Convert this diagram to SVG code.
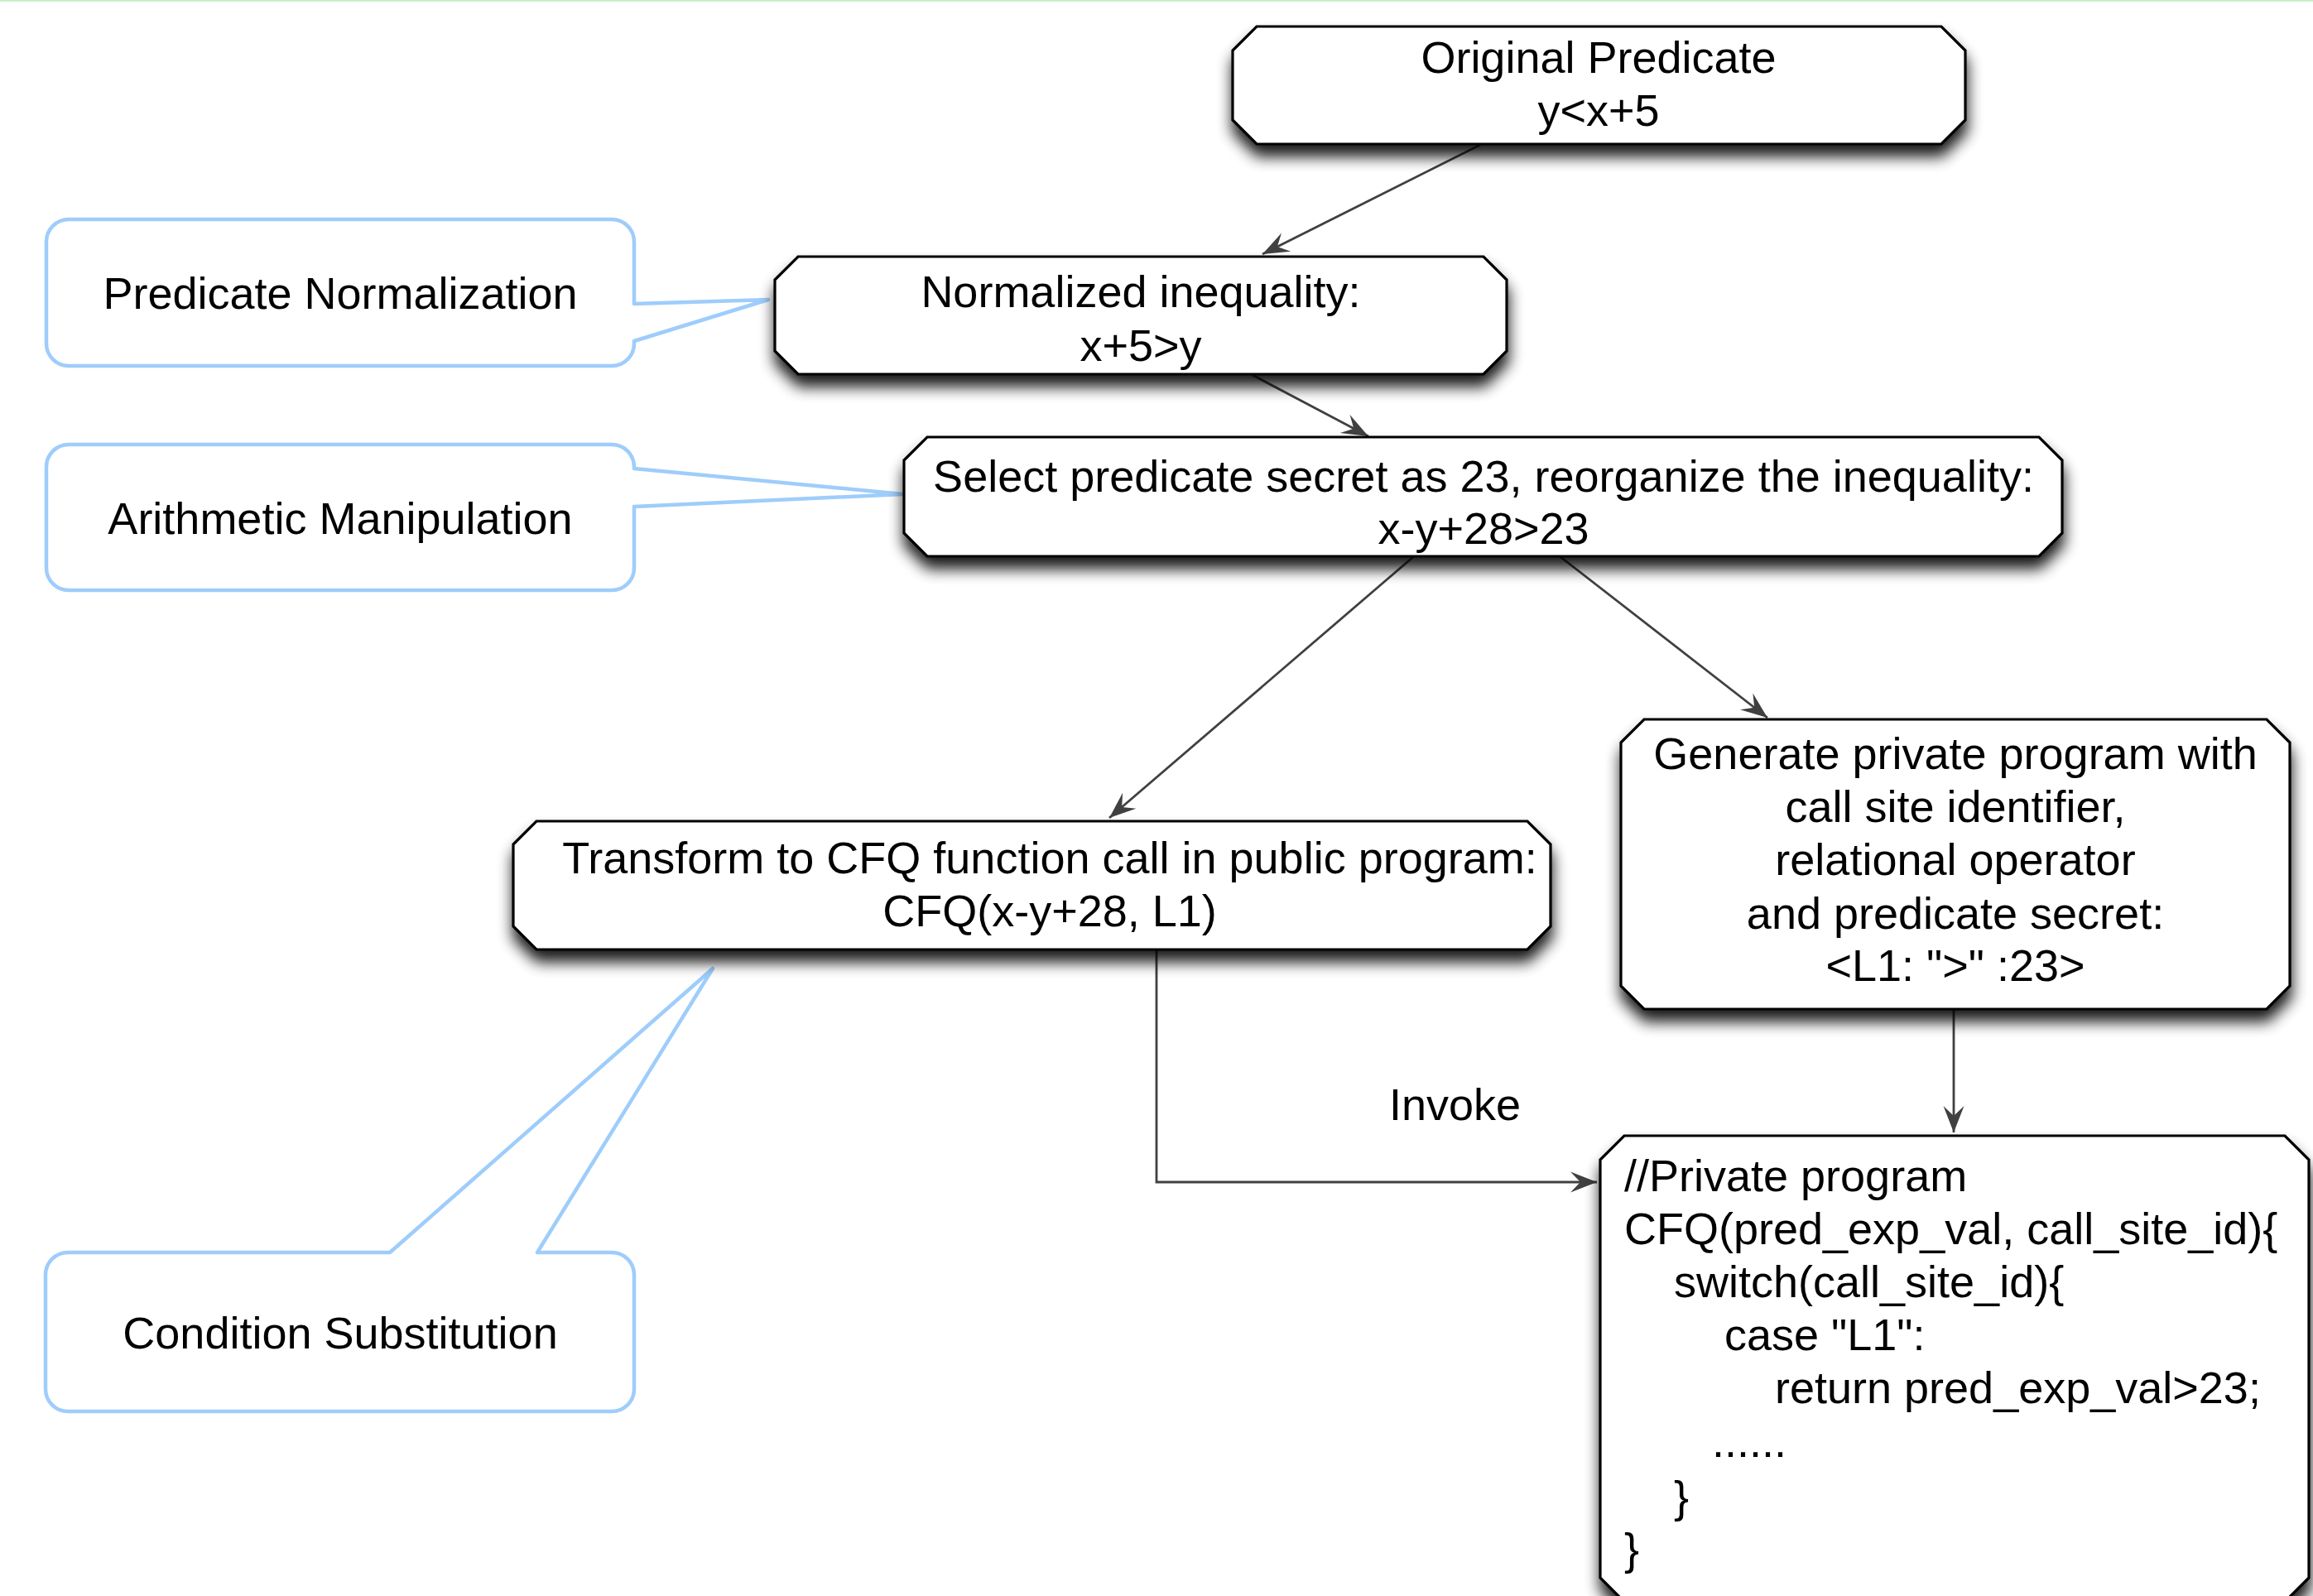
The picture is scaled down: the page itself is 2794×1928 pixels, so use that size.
<svg xmlns="http://www.w3.org/2000/svg" width="2794" height="1928" viewBox="0 0 2794 1928">
<defs>
<style>
text{font-family:"Liberation Sans",Arial,Helvetica,sans-serif;font-size:54px;fill:#000}
.c{text-anchor:middle}
.box{fill:#fff;stroke:#000;stroke-width:3.2;filter:url(#sh)}
.call{fill:#fff;stroke:#9ecdfb;stroke-width:4.5;stroke-linejoin:round}
.con{fill:none;stroke:#404040;stroke-width:2.8;marker-end:url(#ah)}
</style>
<filter id="sh" x="-10%" y="-20%" width="120%" height="160%">
<feGaussianBlur in="SourceAlpha" stdDeviation="9"/>
<feOffset dx="1" dy="14" result="b"/>
<feComponentTransfer><feFuncA type="linear" slope="0.9"/></feComponentTransfer>
<feMerge><feMergeNode/><feMergeNode in="SourceGraphic"/></feMerge>
</filter>
<marker id="ah" viewBox="-34 -14 36 28" refX="0" refY="0" markerWidth="36" markerHeight="28" markerUnits="userSpaceOnUse" orient="auto">
<path d="M0,0 L-32,-12.5 L-20,0 L-32,12.5 Z" fill="#404040"/>
</marker>
</defs>
<rect x="0" y="0" width="2794" height="2" fill="#c8f0c8"/>

<g id="callout-normalization">
<path class="call" d="M83,265 L739,265 A27,27 0 0 1 766,292 L766,367 L928,362 L766,412 L766,415 A27,27 0 0 1 739,442 L83,442 A27,27 0 0 1 56,415 L56,292 A27,27 0 0 1 83,265 Z"/>
<text class="c" x="411" y="373">Predicate Normalization</text>
</g>
<g id="callout-arithmetic">
<path class="call" d="M83,537 L739,537 A27,27 0 0 1 766,564 L766,566 L1091,597 L766,612 L766,686 A27,27 0 0 1 739,713 L83,713 A27,27 0 0 1 56,686 L56,564 A27,27 0 0 1 83,537 Z"/>
<text class="c" x="411" y="645">Arithmetic Manipulation</text>
</g>
<g id="callout-substitution">
<path class="call" d="M82,1513 L471,1513 L861,1170 L649,1513 L739,1513 A27,27 0 0 1 766,1540 L766,1678 A27,27 0 0 1 739,1705 L82,1705 A27,27 0 0 1 55,1678 L55,1540 A27,27 0 0 1 82,1513 Z"/>
<text class="c" x="411" y="1629">Condition Substitution</text>
</g>

<g id="connectors">
<path class="con" d="M1788,175 L1525,307"/>
<path class="con" d="M1513,453 L1653,527"/>
<path class="con" d="M1708,672 L1340,988"/>
<path class="con" d="M1884,672 L2135,867"/>
<path class="con" d="M2360,1219 L2360,1368"/>
<path class="con" d="M1397,1148 L1397,1428 L1929,1428"/>
<text x="1678" y="1353">Invoke</text>
</g>

<g id="original-predicate">
<path class="box" d="M1518,32 L2345,32 L2374,61 L2374,145 L2345,174 L1518,174 L1489,145 L1489,61 Z"/>
<text class="c" x="1931" y="88">Original Predicate</text>
<text class="c" x="1931" y="152">y&lt;x+5</text>
</g>
<g id="normalized-inequality">
<path class="box" d="M964,310 L1792,310 L1820,338 L1820,424 L1792,452 L964,452 L936,424 L936,338 Z"/>
<text class="c" x="1378" y="371">Normalized inequality:</text>
<text class="c" x="1378" y="436">x+5&gt;y</text>
</g>
<g id="select-secret">
<path class="box" d="M1120,528 L2463,528 L2491,556 L2491,644 L2463,672 L1120,672 L1092,644 L1092,556 Z"/>
<text class="c" x="1792" y="594">Select predicate secret as 23, reorganize the inequality:</text>
<text class="c" x="1792" y="657">x-y+28&gt;23</text>
</g>
<g id="transform-cfq">
<path class="box" d="M648,992 L1845,992 L1873,1020 L1873,1119 L1845,1147 L648,1147 L620,1119 L620,1020 Z"/>
<text class="c" x="1268" y="1055">Transform to CFQ function call in public program:</text>
<text class="c" x="1268" y="1119">CFQ(x-y+28, L1)</text>
</g>
<g id="generate-private">
<path class="box" d="M1986,869 L2738,869 L2766,897 L2766,1191 L2738,1219 L1986,1219 L1958,1191 L1958,897 Z"/>
<text class="c" x="2362" y="929">Generate private program with</text>
<text class="c" x="2362" y="993">call site identifier,</text>
<text class="c" x="2362" y="1057">relational operator</text>
<text class="c" x="2362" y="1122">and predicate secret:</text>
<text class="c" x="2362" y="1185">&lt;L1: "&gt;" :23&gt;</text>
</g>
<g id="private-program">
<path class="box" d="M1962,1372 L2760,1372 L2789,1401 L2789,1906 L2760,1935 L1962,1935 L1933,1906 L1933,1401 Z"/>
<text x="1962" y="1439">//Private program</text>
<text x="1962" y="1503">CFQ(pred_exp_val, call_site_id){</text>
<text x="2022" y="1567">switch(call_site_id){</text>
<text x="2083" y="1631">case "L1":</text>
<text x="2144" y="1695">return pred_exp_val&gt;23;</text>
<text x="2068" y="1760">......</text>
<text x="2022" y="1827">}</text>
<text x="1962" y="1890">}</text>
</g>
</svg>
